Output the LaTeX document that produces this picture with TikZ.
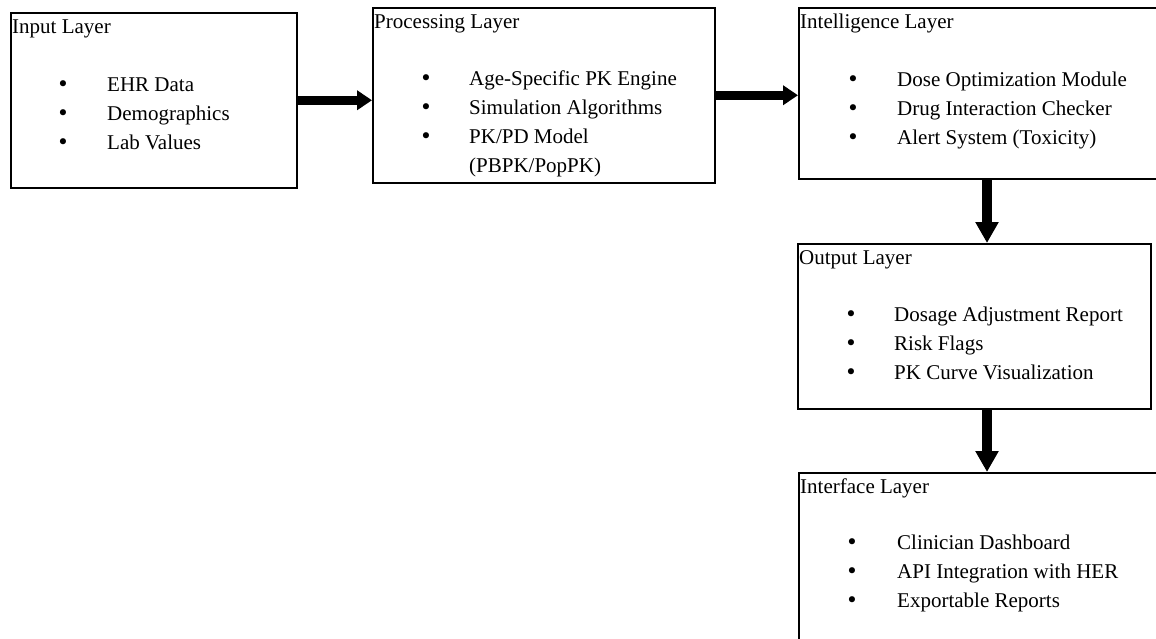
\documentclass[tikz,border=0pt]{standalone}
\usepackage{fontspec}
\setmainfont{Liberation Serif}
\newfontfamily\bulfont{DejaVu Sans}
\usetikzlibrary{positioning,arrows.meta,calc}

\begin{document}
\begin{tikzpicture}[
  x=1pt, y=-1pt,
  layer/.style={draw=black, line width=1.5pt, anchor=north west, inner sep=0pt},
  ttl/.style={anchor=base west, inner sep=0pt, font=\fontsize{21}{29}\selectfont},
  item/.style={anchor=base west, inner sep=0pt, font=\fontsize{21}{29}\selectfont},
  bul/.style={anchor=base, inner sep=0pt, font=\bulfont\fontsize{21}{29}\selectfont},
  harr/.style={line width=9pt, -{Triangle[length=15pt,width=19pt]}},
  varr/.style={line width=10pt, -{Triangle[length=21pt,width=22pt]}}
]

% --- page (la boite deborde a droite et en bas)
\clip (0,0) rectangle (1156,638);
\fill[white] (0,0) rectangle (1156,638);

% --- Couches
\node[layer, minimum width=286pt, minimum height=175pt] (in)    at (10,12)   {};
\node[layer, minimum width=342pt, minimum height=175pt] (proc)  at (372,7)   {};
\node[layer, minimum width=370pt, minimum height=171pt] (intel) at (798,7)   {};
\node[layer, minimum width=353pt, minimum height=165pt] (out)   at (797,243) {};
\node[layer, minimum width=370pt, minimum height=180pt] (ifc)   at (798,472) {};

% --- Titres
\node[ttl] (in-t)    at ($(in.north west)+(2,21)$)    {Input Layer};
\node[ttl] (proc-t)  at ($(proc.north west)+(2,21)$)  {Processing Layer};
\node[ttl] (intel-t) at ($(intel.north west)+(2,21)$) {Intelligence Layer};
\node[ttl] (out-t)   at ($(out.north west)+(2,21)$)   {Output Layer};
\node[ttl] (ifc-t)   at ($(ifc.north west)+(2,21)$)   {Interface Layer};

% --- Listes a puces
\foreach \txt [count=\k] in {EHR Data, Demographics, Lab Values} {
  \node[item] (in-\k) at ($(in.north west)+(97,{79+29*(\k-1)})$) {\txt};
  \node[bul] (in-b\k) at ($(in-\k.base west)+(-44,0)$) {•};
}
\foreach \txt [count=\k] in {Age-Specific PK Engine, Simulation Algorithms, PK/PD Model} {
  \node[item] (proc-\k) at ($(proc.north west)+(97,{78+29*(\k-1)})$) {\txt};
  \node[bul] (proc-b\k) at ($(proc-\k.base west)+(-43,0)$) {•};
}
\node[item] (proc-4) at ($(proc.north west)+(97,165)$) {(PBPK/PopPK)};
\foreach \txt [count=\k] in {Dose Optimization Module, Drug Interaction Checker, Alert System (Toxicity)} {
  \node[item] (intel-\k) at ($(intel.north west)+(99,{79+29*(\k-1)})$) {\txt};
  \node[bul] (intel-b\k) at ($(intel-\k.base west)+(-44,0)$) {•};
}
\foreach \txt [count=\k] in {Dosage Adjustment Report, Risk Flags, PK Curve Visualization} {
  \node[item] (out-\k) at ($(out.north west)+(97,{78+29*(\k-1)})$) {\txt};
  \node[bul] (out-b\k) at ($(out-\k.base west)+(-43,0)$) {•};
}
\foreach \txt [count=\k] in {Clinician Dashboard, API Integration with HER, Exportable Reports} {
  \node[item] (ifc-\k) at ($(ifc.north west)+(99,{77+29*(\k-1)})$) {\txt};
  \node[bul] (ifc-b\k) at ($(ifc-\k.base west)+(-45,0)$) {•};
}

% --- Fleches
\coordinate (vx) at (987,0);
\draw[harr] (in.east) -- (in.east -| proc.west);
\draw[harr] (proc.east) -- (proc.east -| intel.west);
\draw[varr] (intel.south -| vx) -- (out.north -| vx);
\draw[varr] (out.south -| vx) -- (ifc.north -| vx);

\end{tikzpicture}
\end{document}
